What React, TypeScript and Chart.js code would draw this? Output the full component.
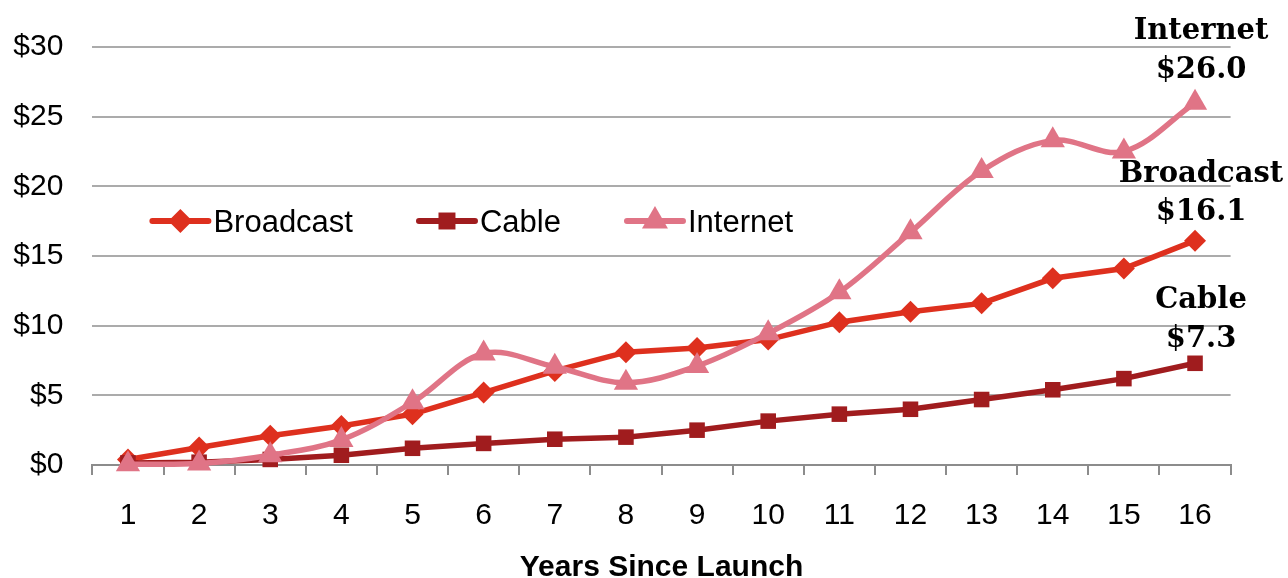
import React, { useEffect, useRef } from "react";
import { Chart, registerables } from "chart.js";

Chart.register(...registerables);

// ---- data ----
const years = ["1", "2", "3", "4", "5", "6", "7", "8", "9", "10", "11", "12", "13", "14", "15", "16"];
const broadcast = [0.4, 1.25, 2.1, 2.8, 3.65, 5.2, 6.75, 8.1, 8.4, 9.0, 10.25, 11.0, 11.6, 13.4, 14.1, 16.1];
const cable = [0.15, 0.2, 0.4, 0.7, 1.2, 1.55, 1.85, 2.0, 2.5, 3.15, 3.65, 4.0, 4.7, 5.4, 6.2, 7.3];
const internet = [0.05, 0.1, 0.7, 1.8, 4.5, 8.0, 7.05, 5.9, 7.1, 9.45, 12.4, 16.7, 21.1, 23.3, 22.5, 26.0];
const seriesNames = ["Broadcast", "Cable", "Internet"];
const endLabelValues = ["$16.1", "$7.3", "$26.0"];
const yMin = 0;
const yMax = 30;
const yStep = 5;
const xTitle = "Years Since Launch";

// ---- style ----
const COLORS = ["rgb(222,48,30)", "rgb(160,28,30)", "rgb(224,116,134)"];
const SANS = "'Liberation Sans', Arial, sans-serif";
const SERIF = "'DejaVu Serif', Georgia, serif";
const LABEL_OFFSETS = [
  [-59, -21],
  [-55, -16],
  [-64, -25],
];

function drawMarker(ctx: CanvasRenderingContext2D, style: string, x: number, y: number, r: number, color: string) {
  ctx.save();
  ctx.fillStyle = color;
  ctx.beginPath();
  if (style === "rectRot") {
    ctx.moveTo(x, y - r);
    ctx.lineTo(x + r, y);
    ctx.lineTo(x, y + r);
    ctx.lineTo(x - r, y);
  } else if (style === "rect") {
    const s = Math.SQRT1_2 * r;
    ctx.rect(x - s, y - s, 2 * s, 2 * s);
  } else {
    ctx.moveTo(x, y - r);
    ctx.lineTo(x + r * Math.sin(Math.PI / 3), y + r / 2);
    ctx.lineTo(x - r * Math.sin(Math.PI / 3), y + r / 2);
  }
  ctx.closePath();
  ctx.fill();
  ctx.restore();
}

const legendPlugin = {
  id: "customLegend",
  afterDraw(chart: any) {
    const ctx: CanvasRenderingContext2D = chart.ctx;
    ctx.save();
    let x = chart.chartArea.left + 60;
    const y = 221;
    ctx.font = `31px ${SANS}`;
    chart.data.datasets.forEach((ds: any) => {
      ctx.strokeStyle = ds.borderColor;
      ctx.lineWidth = 6;
      ctx.lineCap = "round";
      ctx.beginPath();
      ctx.moveTo(x, y);
      ctx.lineTo(x + 56, y);
      ctx.stroke();
      drawMarker(ctx, ds.pointStyle, x + 28, y, ds.pointRadius + 1, ds.borderColor);
      ctx.fillStyle = "#000";
      ctx.textAlign = "left";
      ctx.textBaseline = "alphabetic";
      ctx.fillText(ds.label, x + 61, y + 11);
      x += 61 + ctx.measureText(ds.label).width + 66;
    });
    ctx.restore();
  },
};

const endLabelPlugin = {
  id: "endLabels",
  afterDraw(chart: any) {
    const ctx: CanvasRenderingContext2D = chart.ctx;
    ctx.save();
    ctx.font = `bold 29px ${SERIF}`;
    ctx.fillStyle = "#000";
    ctx.textAlign = "center";
    ctx.textBaseline = "alphabetic";
    chart.data.datasets.forEach((ds: any, i: number) => {
      const meta = chart.getDatasetMeta(i);
      const pt = meta.data[meta.data.length - 1];
      const cx = pt.x + 6;
      ctx.fillText(ds.label, cx, pt.y + LABEL_OFFSETS[i][0]);
      ctx.fillText(endLabelValues[i], cx, pt.y + LABEL_OFFSETS[i][1]);
    });
    ctx.restore();
  },
};

export default function App() {
  const canvasRef = useRef<HTMLCanvasElement | null>(null);

  useEffect(() => {
    document.body.style.margin = "0";
    const canvas = canvasRef.current;
    if (!canvas) return;
    const values = [broadcast, cable, internet];
    const styles = ["rectRot", "rect", "triangle"];
    const radii = [11, 11, 14];
    const orders = [3, 2, 1];
    const chart = new Chart(canvas, {
      type: "line",
      data: {
        labels: years,
        datasets: seriesNames.map((name, i) => ({
          label: name,
          data: values[i],
          borderColor: COLORS[i],
          backgroundColor: COLORS[i],
          borderWidth: 5.5,
          pointStyle: styles[i] as any,
          pointRadius: radii[i],
          pointHoverRadius: radii[i],
          pointBorderWidth: 0,
          pointBackgroundColor: COLORS[i],
          tension: i === 2 ? 0.35 : 0,
          fill: false,
          order: orders[i],
          clip: false as any,
        })),
      },
      options: {
        animation: false,
        responsive: false,
        devicePixelRatio: 1,
        layout: { padding: { left: 0, right: 57.4, top: 40, bottom: 0 } },
        plugins: {
          legend: { display: false },
          tooltip: { enabled: false },
          title: { display: false },
        },
        scales: {
          x: {
            type: "category",
            offset: true,
            grid: {
              display: true,
              offset: true,
              drawOnChartArea: false,
              drawTicks: true,
              tickLength: 10,
              color: "#8c8c8c",
              lineWidth: 2,
            },
            border: { display: true, color: "#8c8c8c", width: 2 },
            ticks: {
              color: "#000",
              font: { family: SANS, size: 30 },
              padding: 23,
              maxRotation: 0,
              autoSkip: false,
            },
            title: {
              display: true,
              text: xTitle,
              color: "#000",
              font: { family: SANS, size: 30, weight: "bold", lineHeight: 0.7 },
              padding: { top: 0, bottom: 0 },
            },
            afterFit(scale: any) {
              scale.height = 113;
            },
          },
          y: {
            min: yMin,
            max: yMax,
            grid: { color: "#ababab", lineWidth: 2, drawTicks: false },
            border: { display: false },
            ticks: {
              stepSize: yStep,
              color: "#000",
              font: { family: SANS, size: 30 },
              padding: 29,
              callback: (v: any) => `$${v}`,
            },
            afterFit(scale: any) {
              scale.width = 92.4;
            },
          },
        },
      },
      plugins: [legendPlugin, endLabelPlugin],
    });
    return () => chart.destroy();
  }, []);

  return (
    <div style={{ width: 1288, height: 578, position: "relative" }}>
      <canvas ref={canvasRef} width={1288} height={578} style={{ display: "block" }} />
    </div>
  );
}
